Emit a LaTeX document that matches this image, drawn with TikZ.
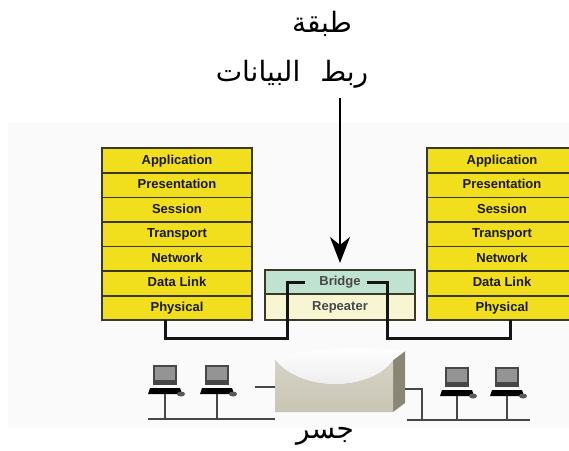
\documentclass[tikz,border=0pt]{standalone}
\usepackage{fontspec}
\setmainfont{Liberation Sans}
\newfontfamily\arabicfont[Script=Arabic]{DejaVu Sans}
\TeXXeTstate=1
\usetikzlibrary{arrows.meta,positioning}
\definecolor{layeryellow}{RGB}{241,222,28}
\definecolor{layeredge}{RGB}{58,56,40}
\definecolor{bridgegreen}{RGB}{192,226,209}
\definecolor{repeatercream}{RGB}{248,246,210}
\definecolor{wallfront}{RGB}{200,197,180}
\definecolor{wallside}{RGB}{138,134,118}
\definecolor{backdrop}{RGB}{250,250,250}
\tikzset{
  layer/.style={draw=layeredge,line width=1.8pt,fill=layeryellow,outer sep=0pt,inner sep=0pt,
    minimum width=150pt,minimum height=24.55pt,text height=9.5pt,text depth=2.5pt,
    font=\bfseries\fontsize{13}{13}\selectfont,text=black!90},
  unit/.style={draw=layeredge,line width=1.6pt,outer sep=0pt,inner sep=0pt,minimum width=150pt,
    text height=9.5pt,text depth=2.5pt,font=\bfseries\fontsize{13}{13}\selectfont,text=black!72},
  link/.style={line width=3pt,draw=black!92},
  wire/.style={line width=1.6pt,draw=black!72},
  pointer/.style={line width=1.6pt,-{Stealth[length=26pt,width=20pt,inset=8pt]}},
  arabic/.style={font=\arabicfont\fontsize{28}{28}\selectfont},
  pc/.pic={
    \fill[black!72] (-12,-10) rectangle (12,10);
    \fill[black!42] (-10,-8) rectangle (10,5);
    \fill[black] (-15,13) -- (15,13) -- (17,19) -- (-17,19) -- cycle;
    \fill[black!65] (16,19) ellipse (4pt and 2.5pt);
    \coordinate (-foot) at (0,19);
  }
}
\begin{document}
\begin{tikzpicture}[x=1pt,y=-1pt]
  \useasboundingbox (0,0) rectangle (569,450);
  \clip (0,0) rectangle (569,450);
  \fill[backdrop] (8,123) rectangle (569,428);

  \node[arabic] (t1) at (322,24) {\beginR طبقة\endR};
  \node[arabic] (t2) at (292,74) {\beginR ربط\hspace{20pt}البيانات\endR};

  % the two OSI stacks
  \foreach \s/\x in {l/177,r/502} {
    \node[layer] (\s1) at (\x,160.6) {Application};
    \foreach \i/\t in {2/Presentation,3/Session,4/Transport,5/Network,6/Data Link,7/Physical} {
      \pgfmathtruncatemacro\j{\i-1}
      \node[layer,below=0pt of \s\j] (\s\i) {\t};
    }
  }

  \node[unit,fill=bridgegreen,minimum height=24pt] (brg) at (340,282) {Bridge};
  \node[unit,fill=repeatercream,minimum height=26pt,below=0pt of brg] (rep) {Repeater};

  \coordinate (drop) at (340,98);
  \draw[pointer] (drop) -- ([yshift=7pt]brg.north);

  \draw[link] ([xshift=-12pt]l7.south) -- ++(0,18) -| ([xshift=-53pt]brg.center) -- ([xshift=-35pt]brg.center);
  \draw[link] ([xshift=27pt]brg.center) -- ++(20,0) |- ([xshift=8pt,yshift=-18pt]r7.south) -- ([xshift=8pt]r7.south);

  % bridge device
  \fill[wallside] (393,360) -- (405,351) -- (405,403) -- (393,412) -- cycle;
  \shade[top color=wallfront!75!white,bottom color=wallfront] (275,359) .. controls (300,392) and (370,392) .. (393,360) -- (393,412) -- (275,412) -- cycle;
  \shade[top color=white,bottom color=black!8] (275,359) .. controls (305,347) and (370,346) .. (405,351) -- (393,360) .. controls (370,392) and (300,392) .. (275,359);
  \coordinate (devl) at (275,387);
  \coordinate (devr) at (405,389);

  % segments and stations
  \coordinate (lbus) at (148,419);
  \coordinate (rbus) at (530,420);
  \draw[wire] (lbus) -- (275,419);
  \draw[wire] (devl) -- ++(-20,0) -- (devl -| 255,0 |- lbus);
  \draw[wire] (407,420) -- (rbus);
  \draw[wire] (devr) -- ++(17,0) -- ++(0,31);
  \pic (pc1) at (165,375) {pc};
  \pic (pc2) at (217,375) {pc};
  \pic (pc3) at (457,377) {pc};
  \pic (pc4) at (507,377) {pc};
  \foreach \p in {pc1,pc2} \draw[wire] (\p-foot) -- (\p-foot |- lbus);
  \foreach \p in {pc3,pc4} \draw[wire] (\p-foot) -- (\p-foot |- rbus);

  \node[arabic] (cap) at (325,436) {\beginR جسر\endR};
\end{tikzpicture}
\end{document}
